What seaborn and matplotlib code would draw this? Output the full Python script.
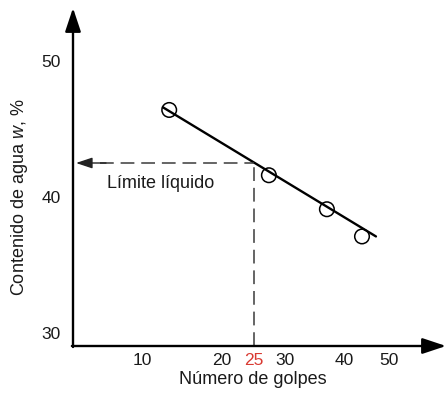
import numpy as np
import pandas as pd
import seaborn as sns
import matplotlib
matplotlib.use("Agg")
import matplotlib.pyplot as plt

# data
golpes = [13.4, 27.4, 37.1, 44.0]
humedad = [46.4, 41.6, 39.1, 37.1]
recta_golpes = [12.6, 47.1]
recta_humedad = [46.6, 37.1]
limite_golpes = 25
limite_humedad = 42.5
x_ticks = [10, 20, 25, 30, 40, 50]
y_ticks = [30, 40, 50]

sns.set_theme(style="white")
plt.rcParams["font.family"] = ["Liberation Sans", "DejaVu Sans"]
plt.rcParams["mathtext.fontset"] = "custom"
plt.rcParams["mathtext.it"] = "Liberation Sans:italic"
plt.rcParams["mathtext.rm"] = "Liberation Sans"

# the x axis of the sketch is not evenly spaced: piecewise scale
knots_g = [0, 10, 20, 25, 30, 40, 50, 80]
knots_p = [62, 142, 222, 254, 285, 344, 389, 524]

def fwd(v):
    return np.interp(v, knots_g, knots_p)

def inv(v):
    return np.interp(v, knots_p, knots_g)

fig = plt.figure(figsize=(4.48, 3.95), dpi=100)
ax = fig.add_axes([73 / 448, 1 - 346 / 395, (446 - 73) / 448, (346 - 8) / 395])
ax.set_xscale("function", functions=(fwd, inv))

df = pd.DataFrame({"golpes": golpes, "humedad": humedad})
recta = pd.DataFrame({"golpes": recta_golpes, "humedad": recta_humedad})

sns.lineplot(data=recta, x="golpes", y="humedad", color="black", lw=1.7, ax=ax)
sns.scatterplot(data=df, x="golpes", y="humedad", marker="o", s=110,
                facecolor="none", edgecolor="black", linewidth=1.1, ax=ax, zorder=3)

ax.set_xlim(inv(73), inv(446))
ax.set_ylim(30 - 13 / 13.6, 30 + 325 / 13.6)

dash = dict(color="#3a3a3a", lw=1.1, dashes=(9, 4.5))
ax.plot([limite_golpes, limite_golpes], [ax.get_ylim()[0], limite_humedad], **dash)
ax.plot([inv(100), limite_golpes], [limite_humedad, limite_humedad], **dash)
ax.annotate("", xy=(inv(76), limite_humedad), xytext=(inv(106), limite_humedad),
            arrowprops=dict(arrowstyle="-|>,head_length=0.9,head_width=0.3",
                            color="#222222", lw=1.0,
                            mutation_scale=11, shrinkA=0, shrinkB=0))
ax.text(inv(107), 41.0, "Límite líquido", fontsize=13, va="center", ha="left",
        color="#1a1a1a")

# axes with arrows
for spine in ax.spines.values():
    spine.set_visible(False)
arrow = dict(arrowstyle="-|>,head_length=0.9,head_width=0.3", color="black",
             lw=1.7, mutation_scale=16, shrinkA=0, shrinkB=0)
ax.annotate("", xy=(1, 0), xytext=(-0.003, 0), xycoords="axes fraction", arrowprops=arrow)
ax.annotate("", xy=(0, 1), xytext=(0, -0.003), xycoords="axes fraction", arrowprops=arrow)

ax.set_xticks(x_ticks)
ax.set_xticklabels([str(t) for t in x_ticks])
ax.set_yticks(y_ticks)
ax.set_yticklabels([str(t) for t in y_ticks])
ax.minorticks_off()
ax.tick_params(axis="both", length=0, labelsize=12.5, labelcolor="#1a1a1a")
ax.tick_params(axis="x", pad=5)
ax.tick_params(axis="y", pad=9)
for lbl in ax.get_xticklabels():
    if lbl.get_text() == "25":
        lbl.set_color("#d93a32")

ax.set_xlabel("Número de golpes", fontsize=13, color="#1a1a1a")
ax.set_ylabel("Contenido de agua $\\it{w}$, %", fontsize=13, color="#1a1a1a")
ax.xaxis.label.set_va("center")
ax.yaxis.label.set_va("center")
ax.xaxis.set_label_coords((253 - 73) / 373, (346 - 380) / 338)
ax.yaxis.set_label_coords((20 - 73) / 373, (346 - 197) / 338)

fig.savefig("out.png", dpi=100)
